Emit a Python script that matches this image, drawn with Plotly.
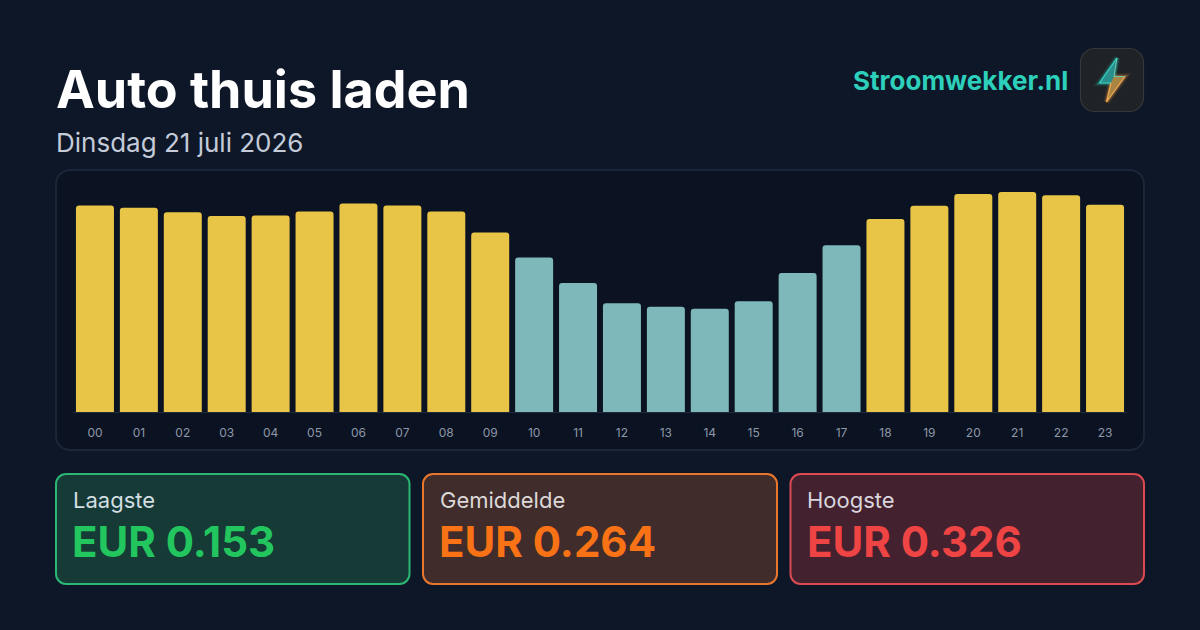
import plotly.graph_objects as go

hours = ["00","01","02","03","04","05","06","07","08","09","10","11",
         "12","13","14","15","16","17","18","19","20","21","22","23"]
prices = [0.306,0.3025,0.296,0.2905,0.291,0.297,0.309,0.306,0.297,0.266,0.229,0.191,
          0.161,0.156,0.153,0.164,0.206,0.247,0.286,0.3055,0.323,0.326,0.321,0.307]
cheap_hours = ["10","11","12","13","14","15","16","17"]
card_labels = ["Laagste","Gemiddelde","Hoogste"]
card_values = ["EUR 0.153","EUR 0.264","EUR 0.326"]
title = "Auto thuis laden"
subtitle = "Dinsdag 21 juli 2026"
brand = "Stroomwekker.nl"

W, H = 1200, 630
FONT = "Inter"
BG = "#0e1728"
YELLOW, TEAL = "#e8c547", "#7fb8ba"

def X(p): return p / W
def Y(p): return 1 - p / H

def rrect(x0, y0, x1, y1, r):
    k = r * 0.45
    pts = [("M", x0 + r, y0), ("L", x1 - r, y0),
           ("C", x1 - k, y0, x1, y0 + k, x1, y0 + r), ("L", x1, y1 - r),
           ("C", x1, y1 - k, x1 - k, y1, x1 - r, y1), ("L", x0 + r, y1),
           ("C", x0 + k, y1, x0, y1 - k, x0, y1 - r), ("L", x0, y0 + r),
           ("C", x0, y0 + k, x0 + k, y0, x0 + r, y0)]
    out = []
    for p in pts:
        c = p[1:]
        out.append(p[0] + " ".join(f"{X(c[i]):.6f},{Y(c[i+1]):.6f}" for i in range(0, len(c), 2)))
    return " ".join(out) + " Z"

def poly(pts, close=True):
    s = "M" + " L".join(f"{X(a):.6f},{Y(b):.6f}" for a, b in pts)
    return s + (" Z" if close else "")

shapes = []
def add(path, fill="rgba(0,0,0,0)", line=None, lw=0):
    shapes.append(dict(type="path", xref="paper", yref="paper", path=path, fillcolor=fill,
                       line=dict(color=line or "rgba(0,0,0,0)", width=lw), layer="below"))

# chart panel
add(rrect(56, 170, 1144, 450, 14), "#0b1221", "#1c2639", 2)
# cards
cards = [(56, 409.5, "#163a36", "#2bb673", "#22c55e", "#d3dfe3"),
         (423, 777, "#402c2a", "#e8772b", "#f97316", "#dcd8d8"),
         (790.5, 1144, "#43212f", "#da4a50", "#ef4444", "#d9d6de")]
for x0, x1, f, b, _, _ in cards:
    add(rrect(x0, 474, x1, 584, 10), f, b, 2)
# logo tile
add(rrect(1080.5, 48.5, 1143.5, 111.5, 14), "#1f2226", "#34373c", 1.2)
# bolt
tip, left, mid, bottom, right, inner = (1117, 58), (1099.5, 83), (1111, 83), (1106.5, 102), (1125, 76.5), (1114, 76.5)
top_part = [tip, left, mid, inner]
low_part = [inner, right, bottom, mid]
for w, a in ((7, .08), (4.5, .15), (2.8, .25)):
    add(poly(top_part), line=f"rgba(45,212,191,{a})", lw=w)
    add(poly(low_part), line=f"rgba(245,158,66,{a})", lw=w)
add(poly(top_part), "#2a8f8c")
add(poly(low_part), "#a98543")
add(poly([tip, left, mid], False), line="#35d8c8", lw=1.1)
add(poly([tip, inner, right], False), line="#6fd0b8", lw=0.9)
add(poly([right, bottom, mid], False), line="#f4ad52", lw=1.1)

def text(x, y, s, size, color, weight=400, anchor="left"):
    return dict(xref="paper", yref="paper", x=X(x), y=Y(y), xanchor=anchor, yanchor="middle",
                text=s, showarrow=False, align=anchor, borderpad=0,
                font=dict(family=FONT, size=size, color=color, weight=weight))

ann = [text(54.5, 90, title, 52, "#ffffff", 700),
       text(55, 143, subtitle, 26, "#c4cbd9"),
       text(1069, 81, brand, 26, "#2dd0ba", 700, "right")]
for (x0, x1, _, _, vc, lc), lab, val in zip(cards, card_labels, card_values):
    ann.append(text(x0 + 15.5, 500.5, lab, 22, lc))
    ann.append(text(x0 + 15, 541, val, 42, vc, 700))

colors = [TEAL if h in cheap_hours else YELLOW for h in hours]
fig = go.Figure(go.Bar(x=hours, y=prices, width=0.865, marker=dict(color=colors, cornerradius=3, line=dict(width=0)),
                       hoverinfo="skip"))
plot_top, plot_bot = 180, 412
fig.update_layout(
    width=W, height=H, margin=dict(l=0, r=0, t=0, b=0), paper_bgcolor=BG, plot_bgcolor="rgba(0,0,0,0)",
    showlegend=False, shapes=shapes, annotations=ann, font=dict(family=FONT),
    xaxis=dict(domain=[X(73), X(1127)], anchor="y", type="category", range=[-0.5, 23.5], showgrid=False,
               showline=True, linecolor="#1f2a3d", linewidth=1, ticks="outside", ticklen=10, tickcolor="rgba(0,0,0,0)",
               tickfont=dict(family=FONT, size=12, color="#8d98aa"), fixedrange=True),
    yaxis=dict(domain=[Y(plot_bot), Y(plot_top)], range=[0, 0.326 * 232 / 220], visible=False, fixedrange=True),
)
fig.write_html("out.html", config=dict(displayModeBar=False),
               post_script=f"document.body.style.margin='0';document.body.style.background='{BG}';document.body.style.overflow='hidden';")
